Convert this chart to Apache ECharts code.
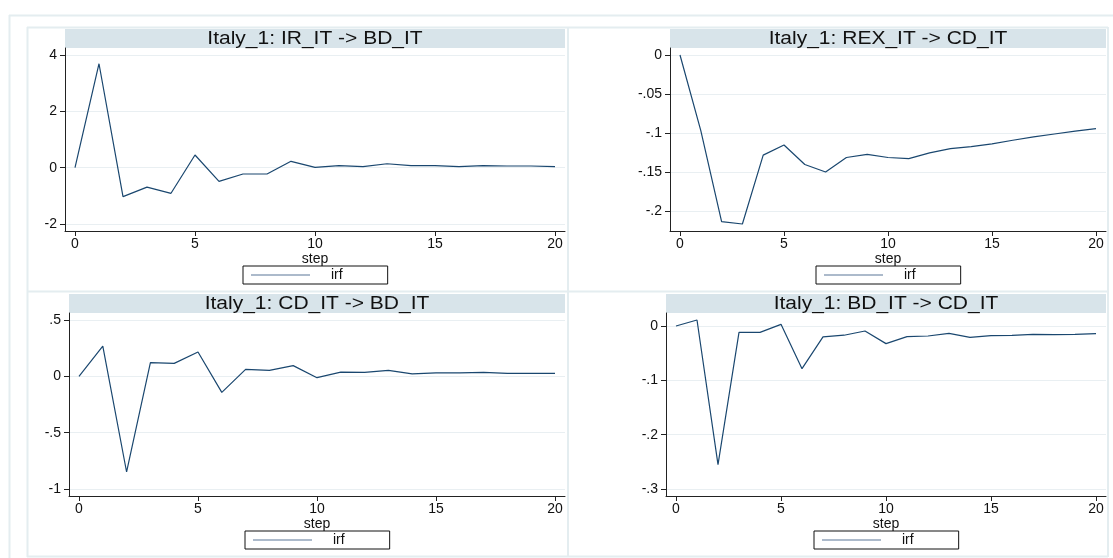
<!DOCTYPE html>
<html>
<head>
<meta charset="utf-8">
<title>Italy_1 impulse responses</title>
<script src="https://cdn.jsdelivr.net/npm/echarts@6/dist/echarts.min.js"></script>
<style>
  html, body { margin: 0; padding: 0; background: #ffffff; }
  #chart { width: 1113px; height: 558px; }
</style>
</head>
<body>
<div id="chart"></div>
<script>
// Forecast horizon (steps) shared by all four impulse-response panels
const steps = [0, 1, 2, 3, 4, 5, 6, 7, 8, 9, 10, 11, 12, 13, 14, 15, 16, 17, 18, 19, 20];

// Impulse responses (irf) per shock -> response pair
const irfIrBd = [0, 3.69, -1.03, -0.69, -0.91, 0.45, -0.485, -0.225, -0.225, 0.225, 0.01,
                 0.07, 0.035, 0.14, 0.07, 0.07, 0.035, 0.07, 0.06, 0.06, 0.035];
const irfRexCd = [0, -0.0966, -0.213, -0.216, -0.128, -0.115, -0.140, -0.1496, -0.131, -0.127, -0.131,
                  -0.1325, -0.125, -0.1197, -0.117, -0.1137, -0.109, -0.1047, -0.101, -0.0974, -0.094];
const irfCdBd = [0, 0.269, -0.849, 0.121, 0.115, 0.216, -0.142, 0.062, 0.053, 0.095, -0.012,
                 0.038, 0.036, 0.053, 0.021, 0.030, 0.030, 0.036, 0.027, 0.027, 0.027];
const irfBdCd = [0, 0.011, -0.255, -0.0117, -0.0117, 0.003, -0.0785, -0.020, -0.017, -0.0092, -0.0325,
                 -0.0196, -0.0184, -0.0135, -0.0209, -0.0178, -0.0172, -0.0153, -0.016, -0.0153, -0.0141];

// Panel titles
const panelTitles = [
  'Italy_1: IR_IT -> BD_IT',
  'Italy_1: REX_IT -> CD_IT',
  'Italy_1: CD_IT -> BD_IT',
  'Italy_1: BD_IT -> CD_IT'
];

// Tick values
const stepTicks = [0, 5, 10, 15, 20];
const ticksIrBd = [-2, 0, 2, 4];
const ticksRexCd = [-0.2, -0.15, -0.1, -0.05, 0];
const ticksCdBd = [-1, -0.5, 0, 0.5];
const ticksBdCd = [-0.3, -0.2, -0.1, 0];

const xAxisName = 'step';
const legendLabel = 'irf';

// ---- styling / layout ----
const FONT = '"Liberation Sans", Arial, Helvetica, sans-serif';
const NAVY = '#1a476f';
const AXIS = '#222222';
const FRAME = '#e4edf0';
const BAND = '#d8e4ea';
const GRIDLINE = '#e9eff2';
const LABEL_SIZE = 14;
const X_MARGIN = 10;   // px of empty plot region left/right of the data
const Y_MARGIN = 7;    // px of empty plot region above/below

const panels = [
  { title: panelTitles[0], values: irfIrBd,  ticks: ticksIrBd,  box: { left: 65,  top: 48,  width: 500, height: 183 } },
  { title: panelTitles[1], values: irfRexCd, ticks: ticksRexCd, box: { left: 670, top: 48,  width: 436, height: 183 } },
  { title: panelTitles[2], values: irfCdBd,  ticks: ticksCdBd,  box: { left: 69,  top: 313, width: 496, height: 183 } },
  { title: panelTitles[3], values: irfBdCd,  ticks: ticksBdCd,  box: { left: 666, top: 313, width: 440, height: 183 } }
];

// Stata-like numeric labels: drop the leading zero (".5", "-.05")
function stataNum(v) {
  const s = String(parseFloat(Number(v).toFixed(4)));
  return s.replace(/^(-?)0\./, '$1.');
}

// Axis extent covering ticks and data, padded by a fixed pixel margin
function paddedRange(lo, hi, px, margin) {
  const k = (px - 2 * margin) / (hi - lo);
  return [lo - margin / k, hi + margin / k];
}

const grids = [], xAxes = [], yAxes = [], series = [], legends = [], graphics = [];

panels.forEach((p, i) => {
  const b = p.box;
  grids.push({ left: b.left, top: b.top, width: b.width, height: b.height, containLabel: false });

  const xr = paddedRange(stepTicks[0], stepTicks[stepTicks.length - 1], b.width, X_MARGIN);
  const lo = Math.min(Math.min.apply(null, p.values), p.ticks[0]);
  const hi = Math.max(Math.max.apply(null, p.values), p.ticks[p.ticks.length - 1]);
  const yr = paddedRange(lo, hi, b.height, Y_MARGIN);

  xAxes.push({
    type: 'value', gridIndex: i, min: xr[0], max: xr[1],
    name: xAxisName, nameLocation: 'middle', nameGap: 16,
    nameTextStyle: { fontFamily: FONT, fontSize: LABEL_SIZE, color: '#111' },
    axisLine: { show: true, onZero: false, lineStyle: { color: AXIS, width: 1 } },
    axisTick: { show: true, length: 5, customValues: stepTicks, lineStyle: { color: AXIS } },
    axisLabel: { customValues: stepTicks, margin: 6, fontFamily: FONT, fontSize: LABEL_SIZE, color: '#111' },
    splitLine: { show: false }
  });

  yAxes.push({
    type: 'value', gridIndex: i, min: yr[0], max: yr[1],
    axisLine: { show: true, onZero: false, lineStyle: { color: AXIS, width: 1 } },
    axisTick: { show: true, length: 5, customValues: p.ticks, lineStyle: { color: AXIS } },
    axisLabel: { customValues: p.ticks, margin: 8, fontFamily: FONT, fontSize: LABEL_SIZE, color: '#111',
                 formatter: stataNum },
    splitLine: { show: true, lineStyle: { color: GRIDLINE, width: 1 } }
  });

  series.push({
    type: 'line', name: legendLabel, xAxisIndex: i, yAxisIndex: i,
    data: steps.map((s, j) => [s, p.values[j]]),
    symbol: 'none', silent: true, animation: false,
    lineStyle: { color: NAVY, width: 1.2 },
    itemStyle: { color: NAVY }
  });

  const cx = b.left + b.width / 2;
  const legendW = 144;
  legends.push({
    data: [legendLabel], selectedMode: false,
    left: cx - legendW / 2, top: b.top + 218,
    icon: 'rect', itemWidth: 59, itemHeight: 1.2,
    itemStyle: { color: '#5b7797', borderWidth: 0 },
    padding: [2, 45, 2, 8],
    borderColor: '#111', borderWidth: 1, backgroundColor: '#ffffff',
    textStyle: { fontFamily: FONT, fontSize: LABEL_SIZE, color: '#111', padding: [0, 0, 0, 16] }
  });

  // title band above the plot region
  const bandH = 19;
  graphics.push({
    type: 'rect', silent: true,
    shape: { x: b.left, y: b.top - bandH, width: b.width, height: bandH },
    style: { fill: BAND }
  });
  graphics.push({
    type: 'text', silent: true, x: cx, y: b.top - bandH / 2 + 0.5, scaleX: 1.2,
    style: { x: 0, y: 0, text: p.title, fill: '#111', font: '17.5px ' + FONT,
             align: 'center', verticalAlign: 'middle' }
  });
});

// light frames around the combined graph and between the panels
function hLine(x1, x2, y) {
  return { type: 'line', silent: true, shape: { x1: x1, y1: y, x2: x2, y2: y }, style: { stroke: FRAME, lineWidth: 2 } };
}
function vLine(x, y1, y2) {
  return { type: 'line', silent: true, shape: { x1: x, y1: y1, x2: x, y2: y2 }, style: { stroke: FRAME, lineWidth: 2 } };
}
graphics.push(hLine(9, 1113, 15.5), vLine(9.5, 15, 558));
graphics.push(hLine(27, 1108, 27.5), vLine(27.5, 27, 557), vLine(1108, 27, 557), hLine(27, 1108, 556.5));
graphics.push(vLine(568, 27, 557), hLine(27, 1108, 291.5));

const chart = echarts.init(document.getElementById('chart'), null, { renderer: 'canvas' });
chart.setOption({
  backgroundColor: '#ffffff',
  animation: false,
  textStyle: { fontFamily: FONT },
  grid: grids,
  xAxis: xAxes,
  yAxis: yAxes,
  legend: legends,
  series: series,
  graphic: { elements: graphics }
});
</script>
</body>
</html>
